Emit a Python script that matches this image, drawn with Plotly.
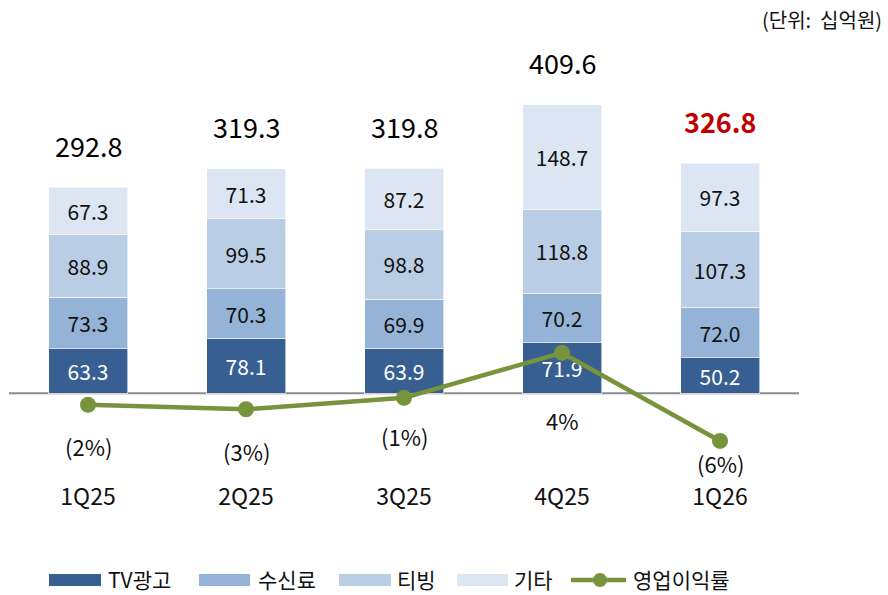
import plotly.graph_objects as go

quarters = ["1Q25", "2Q25", "3Q25", "4Q25", "1Q26"]
tv_ad = [63.3, 78.1, 63.9, 71.9, 50.2]
fees = [73.3, 70.3, 69.9, 70.2, 72.0]
tving = [88.9, 99.5, 98.8, 118.8, 107.3]
other = [67.3, 71.3, 87.2, 148.7, 97.3]
totals = [292.8, 319.3, 319.8, 409.6, 326.8]
op_margin = [-2.2, -2.7, -1.4, 3.7, -6.3]
op_margin_labels = ["(2%)", "(3%)", "(1%)", "4%", "(6%)"]
series_names = ["TV광고", "수신료", "티빙", "기타", "영업이익률"]
unit_text = "(단위:  십억원)"

FONT = "Noto Sans CJK KR, Lato, sans-serif"
colors = ["#375F91", "#95B3D7", "#B9CDE5", "#DCE6F2"]
line_color = "#77933C"

W, H = 888, 595
ML = 9
MR = W - 799
MT = 60
MB = H - 478
PW = W - ML - MR
PH = H - MT - MB


def px_x(px):
    return (px - ML) / PW


def px_y(py):
    return (H - MB - py) / PH


fig = go.Figure()
seg_values = [tv_ad, fees, tving, other]
for i, (name, vals) in enumerate(zip(series_names[:4], seg_values)):
    fig.add_trace(go.Bar(
        x=quarters, y=vals, name=name,
        marker=dict(color=colors[i], line=dict(color="rgba(255,255,255,0.6)", width=1)),
        width=0.5,
        text=[f"{v:.1f}" for v in vals],
        textposition="inside", insidetextanchor="middle",
        textfont=dict(size=21, color="white" if i == 0 else "#111111", family=FONT),
        constraintext="none",
        showlegend=False,
    ))

fig.add_trace(go.Scatter(
    x=quarters, y=op_margin, yaxis="y2", mode="lines+markers",
    name=series_names[4],
    line=dict(color=line_color, width=4.5),
    marker=dict(color=line_color, size=16),
    showlegend=False,
))

annotations = []
for i, (q, t) in enumerate(zip(quarters, totals)):
    last = i == len(quarters) - 1
    annotations.append(dict(
        x=q, y=t, xref="x", yref="y", text=(f"<b>{t:.1f}</b>" if last else f"{t:.1f}"),
        showarrow=False, yanchor="middle", yshift=42,
        font=dict(size=27, color="#C00000" if last else "#000000", family=FONT),
    ))

label_shift = [-41, -42, -38, -67, -22]
for q, v, lab, s in zip(quarters, op_margin, op_margin_labels, label_shift):
    annotations.append(dict(
        x=q, y=v, xref="x", yref="y2", text=lab, showarrow=False,
        yanchor="middle", yshift=s, font=dict(size=22, color="#111111", family=FONT),
    ))

annotations.append(dict(
    x=px_x(884), y=px_y(19), xref="paper", yref="paper", text=unit_text,
    showarrow=False, xanchor="right", yanchor="middle",
    font=dict(size=20, color="#111111", family=FONT),
))

# custom legend
shapes = []
leg_y = 580
rect_x = [(49, 101), (199, 250), (339, 391), (457, 508)]
text_x = [106, 256, 395, 512, 631]
for i in range(4):
    x0, x1 = rect_x[i]
    shapes.append(dict(type="rect", xref="paper", yref="paper",
                       x0=px_x(x0), x1=px_x(x1), y0=px_y(leg_y + 6), y1=px_y(leg_y - 6),
                       fillcolor=colors[i], line=dict(width=0)))
shapes.append(dict(type="line", xref="paper", yref="paper",
                   x0=px_x(571), x1=px_x(626), y0=px_y(leg_y), y1=px_y(leg_y),
                   line=dict(color=line_color, width=4.5)))
shapes.append(dict(type="circle", xref="paper", yref="paper",
                   x0=px_x(600 - 7), x1=px_x(600 + 7), y0=px_y(leg_y + 7), y1=px_y(leg_y - 7),
                   fillcolor=line_color, line=dict(width=0)))
for name, tx in zip(series_names, text_x):
    annotations.append(dict(
        x=px_x(tx), y=px_y(leg_y - 1), xref="paper", yref="paper", text=name,
        showarrow=False, xanchor="left", yanchor="middle",
        font=dict(size=21, color="#111111", family=FONT),
    ))

# baseline
shapes.append(dict(type="line", xref="paper", yref="y", x0=0, x1=1, y0=0, y1=0,
                   line=dict(color="#8C8C8C", width=2), layer="below"))

scale = 0.704
base_px = 393.3
bottom_px = H - MB
top_px = MT
y_lo = -(bottom_px - base_px) / scale
y_hi = (base_px - top_px) / scale
a2, b2 = 385.5, 8.8
y2_lo = (a2 - bottom_px) / b2
y2_hi = (a2 - top_px) / b2

fig.update_layout(
    width=W, height=H,
    margin=dict(l=ML, r=MR, t=MT, b=MB),
    paper_bgcolor="white", plot_bgcolor="white",
    barmode="stack", bargap=0.5,
    font=dict(family=FONT, color="#111111"),
    xaxis=dict(showgrid=False, showline=False, ticks="", zeroline=False,
               tickfont=dict(size=23, color="#111111", family=FONT),
               ticklabelstandoff=3),
    yaxis=dict(range=[y_lo, y_hi], visible=False, showgrid=False, zeroline=False),
    yaxis2=dict(range=[y2_lo, y2_hi], overlaying="y", visible=False,
                showgrid=False, zeroline=False),
    annotations=annotations,
    shapes=shapes,
    showlegend=False,
)

fig.write_html("out.html", config={"displayModeBar": False},
               post_script="document.body.style.margin='0';")
